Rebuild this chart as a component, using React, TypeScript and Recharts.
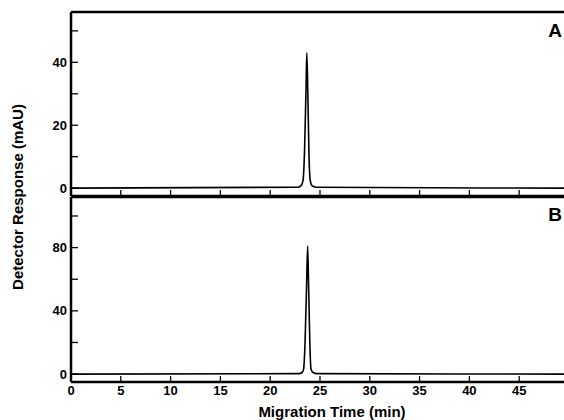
import React from "react";
import { LineChart, Line, XAxis, YAxis, ReferenceLine } from "recharts";

// migration time (min) and detector response (mAU)
const timesA = [0, 22.8, 23.1, 23.3, 23.45, 23.6, 23.68, 23.78, 23.9, 24.02, 24.2, 24.6, 49.5];
const signalA = [0, 0.3, 0.8, 2.5, 12, 32, 43, 30, 10, 2.5, 0.8, 0.3, 0];

const timesB = [0, 22.9, 23.2, 23.35, 23.5, 23.65, 23.76, 23.86, 23.98, 24.1, 24.3, 24.7, 49.5];
const signalB = [0, 0.3, 1, 3, 20, 55, 81, 55, 20, 3, 1, 0.3, 0];

const xTicks = [0, 5, 10, 15, 20, 25, 30, 35, 40, 45];
const yTicksA = [0, 10, 20, 30, 40, 50];
const yTicksB = [0, 20, 40, 60, 80, 100];

const dataA = timesA.map((t, i) => ({ t, v: signalA[i] }));
const dataB = timesB.map((t, i) => ({ t, v: signalB[i] }));

const font = "'Liberation Sans', Arial, Helvetica, sans-serif";
const tickStyle = { fontSize: 13, fontWeight: 700, fill: "#000", fontFamily: font };
const axisLine = { stroke: "#000", strokeWidth: 2.5 };
const tickLine = { stroke: "#000", strokeWidth: 1.3 };

export default function App() {
  return (
    <div style={{ position: "absolute", left: 0, top: 0, width: 564, height: 420, background: "#fff" }}>
      <div style={{ position: "absolute", left: 0, top: 0 }}>
        <LineChart width={564} height={200} data={dataA} margin={{ top: 12, right: 0, bottom: 0, left: 0 }}>
          <XAxis
            type="number"
            dataKey="t"
            domain={[0, 49.5]}
            ticks={xTicks}
            height={4}
            tickSize={-6}
            tickFormatter={() => ""}
            axisLine={axisLine}
            tickLine={tickLine}
            allowDataOverflow
          />
          <YAxis
            type="number"
            domain={[-2.5, 56]}
            ticks={yTicksA}
            width={71}
            tickSize={-7}
            tickMargin={11}
            tickFormatter={(v) => (v % 20 === 0 ? String(v) : "")}
            tick={tickStyle}
            axisLine={axisLine}
            tickLine={tickLine}
            allowDataOverflow
          />
          <ReferenceLine y={56} stroke="#000" strokeWidth={2.5} />
          <Line
            type="monotone"
            dataKey="v"
            stroke="#000"
            strokeWidth={1.6}
            dot={false}
            isAnimationActive={false}
          />
        </LineChart>
      </div>
      <div style={{ position: "absolute", left: 0, top: 190 }}>
        <LineChart width={564} height={230} data={dataB} margin={{ top: 7, right: 0, bottom: 0, left: 0 }}>
          <XAxis
            type="number"
            dataKey="t"
            domain={[0, 49.5]}
            ticks={xTicks}
            height={38}
            tickSize={-6}
            tickMargin={10}
            tick={tickStyle}
            axisLine={axisLine}
            tickLine={tickLine}
            allowDataOverflow
          />
          <YAxis
            type="number"
            domain={[-5, 112]}
            ticks={yTicksB}
            width={71}
            tickSize={-7}
            tickMargin={11}
            tickFormatter={(v) => (v % 40 === 0 ? String(v) : "")}
            tick={tickStyle}
            axisLine={axisLine}
            tickLine={tickLine}
            allowDataOverflow
          />
          <ReferenceLine y={112} stroke="#000" strokeWidth={2.5} />
          <Line
            type="monotone"
            dataKey="v"
            stroke="#000"
            strokeWidth={1.6}
            dot={false}
            isAnimationActive={false}
          />
        </LineChart>
      </div>
      <svg width={564} height={420} style={{ position: "absolute", left: 0, top: 0, pointerEvents: "none" }}>
        <g fontFamily={font} fontWeight={700} fill="#000">
          <text x={555} y={37} fontSize={19} textAnchor="middle">A</text>
          <text x={555} y={221} fontSize={19} textAnchor="middle">B</text>
          <text x={332} y={417} fontSize={15} textAnchor="middle">Migration Time (min)</text>
          <text
            x={23}
            y={197}
            fontSize={15}
            textAnchor="middle"
            transform="rotate(-90 23 197)"
          >
            Detector Response (mAU)
          </text>
        </g>
      </svg>
    </div>
  );
}
